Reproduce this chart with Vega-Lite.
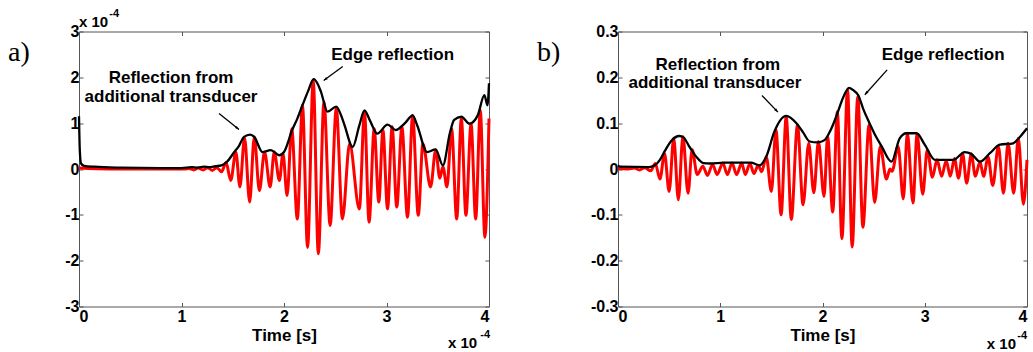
{
"$schema": "https://vega.github.io/schema/vega-lite/v6.json",
"autosize": {"type": "pad"},
"padding": {"left": 7, "top": 7.5, "right": 5, "bottom": 5},
"background": "white",
"config": {
  "view": {"stroke": "#555", "strokeWidth": 1},
  "axis": {"labelFont": "Liberation Sans", "labelFontSize": 16, "labelFontWeight": "bold", "labelColor": "#000",
           "titleFont": "Liberation Sans", "titleFontSize": 17, "titleFontWeight": "bold", "titleColor": "#000",
           "domain": false, "grid": false, "tickColor": "#555", "tickSize": -4, "tickWidth": 1}
},
"datasets": {
  "redA": [
    {"t":0.00,"v":0.02},{"t":0.30,"v":0.00},{"t":0.70,"v":0.00},{"t":1.03,"v":0.00},{"t":1.075,"v":0.01},{"t":1.12,"v":-0.02},
    {"t":1.165,"v":0.02},{"t":1.21,"v":-0.02},{"t":1.255,"v":0.03},{"t":1.30,"v":-0.03},{"t":1.345,"v":0.03},{"t":1.39,"v":-0.06},
    {"t":1.435,"v":0.14},{"t":1.48,"v":-0.25},{"t":1.53,"v":0.37},{"t":1.57,"v":-0.39},{"t":1.615,"v":0.68},{"t":1.665,"v":-0.72},
    {"t":1.71,"v":0.70},{"t":1.76,"v":-0.47},{"t":1.81,"v":0.37},{"t":1.865,"v":-0.39},{"t":1.905,"v":0.37},{"t":1.955,"v":-0.25},
    {"t":1.99,"v":0.34},{"t":2.03,"v":-0.58},{"t":2.075,"v":0.88},{"t":2.13,"v":-1.09},{"t":2.18,"v":1.39},{"t":2.23,"v":-1.71},
    {"t":2.285,"v":1.94},{"t":2.335,"v":-1.85},{"t":2.39,"v":1.47},{"t":2.45,"v":-1.23},{"t":2.51,"v":1.32},{"t":2.57,"v":-1.09},
    {"t":2.64,"v":0.55},{"t":2.735,"v":-0.87},{"t":2.785,"v":1.25},{"t":2.83,"v":-1.16},{"t":2.88,"v":0.88},{"t":2.925,"v":-0.72},
    {"t":2.965,"v":0.85},{"t":3.01,"v":-0.87},{"t":3.055,"v":0.92},{"t":3.10,"v":-0.83},{"t":3.15,"v":0.92},{"t":3.205,"v":-1.05},
    {"t":3.255,"v":1.17},{"t":3.31,"v":-1.01},{"t":3.355,"v":0.55},{"t":3.43,"v":-0.39},{"t":3.48,"v":0.41},{"t":3.52,"v":-0.20},
    {"t":3.55,"v":0.05},{"t":3.59,"v":-0.39},{"t":3.635,"v":0.88},{"t":3.685,"v":-1.09},{"t":3.73,"v":1.10},{"t":3.775,"v":-1.01},
    {"t":3.825,"v":0.99},{"t":3.87,"v":-1.09},{"t":3.915,"v":1.28},{"t":3.96,"v":-1.49},{"t":4.0,"v":1.10}
  ],
  "envA": [
    {"t":0.000,"v":1.15},{"t":0.008,"v":0.40},{"t":0.02,"v":0.12},{"t":0.05,"v":0.07},{"t":0.15,"v":0.05},{"t":0.4,"v":0.03},
    {"t":0.8,"v":0.02},{"t":1.0,"v":0.02},{"t":1.1,"v":0.04},{"t":1.16,"v":0.03},{"t":1.22,"v":0.05},{"t":1.27,"v":0.04},
    {"t":1.33,"v":0.06},{"t":1.39,"v":0.08},{"t":1.44,"v":0.15},{"t":1.515,"v":0.37},{"t":1.56,"v":0.50},{"t":1.61,"v":0.70},
    {"t":1.67,"v":0.75},{"t":1.71,"v":0.70},{"t":1.79,"v":0.37},{"t":1.87,"v":0.41},{"t":1.955,"v":0.30},{"t":2.0,"v":0.37},
    {"t":2.08,"v":0.85},{"t":2.13,"v":1.10},{"t":2.18,"v":1.39},{"t":2.235,"v":1.70},{"t":2.29,"v":1.96},{"t":2.33,"v":1.85},
    {"t":2.36,"v":1.69},{"t":2.425,"v":1.25},{"t":2.51,"v":1.36},{"t":2.56,"v":1.15},{"t":2.59,"v":0.96},{"t":2.67,"v":0.48},
    {"t":2.735,"v":0.95},{"t":2.785,"v":1.28},{"t":2.84,"v":1.05},{"t":2.91,"v":0.77},{"t":3.01,"v":0.97},{"t":3.09,"v":0.85},
    {"t":3.18,"v":1.0},{"t":3.255,"v":1.17},{"t":3.30,"v":0.95},{"t":3.395,"v":0.37},{"t":3.48,"v":0.43},{"t":3.55,"v":0.08},
    {"t":3.62,"v":0.8},{"t":3.66,"v":1.07},{"t":3.73,"v":1.14},{"t":3.81,"v":0.99},{"t":3.89,"v":1.17},{"t":3.955,"v":1.61},
    {"t":3.985,"v":1.39},{"t":4.0,"v":1.87}
  ],
  "redB": [
    {"t":0.00,"v":0.001},{"t":0.10,"v":0.000},{"t":0.16,"v":0.002},{"t":0.21,"v":-0.002},{"t":0.26,"v":0.003},{"t":0.32,"v":-0.004},
    {"t":0.365,"v":0.012},{"t":0.41,"v":-0.022},{"t":0.455,"v":0.034},{"t":0.50,"v":-0.049},{"t":0.545,"v":0.067},{"t":0.59,"v":-0.067},
    {"t":0.635,"v":0.071},{"t":0.685,"v":-0.053},{"t":0.725,"v":0.042},{"t":0.775,"v":-0.012},{"t":0.83,"v":0.006},{"t":0.875,"v":-0.014},
    {"t":0.925,"v":0.010},{"t":0.97,"v":-0.012},{"t":1.025,"v":0.013},{"t":1.07,"v":-0.012},{"t":1.115,"v":0.013},{"t":1.16,"v":-0.012},
    {"t":1.21,"v":0.013},{"t":1.245,"v":-0.012},{"t":1.29,"v":0.012},{"t":1.33,"v":-0.010},{"t":1.37,"v":0.008},{"t":1.405,"v":-0.006},
    {"t":1.45,"v":0.027},{"t":1.50,"v":-0.049},{"t":1.545,"v":0.085},{"t":1.595,"v":-0.100},{"t":1.645,"v":0.114},{"t":1.695,"v":-0.110},
    {"t":1.755,"v":0.096},{"t":1.81,"v":-0.078},{"t":1.865,"v":0.056},{"t":1.915,"v":-0.052},{"t":1.96,"v":0.060},{"t":2.015,"v":-0.060},
    {"t":2.05,"v":0.070},{"t":2.10,"v":-0.094},{"t":2.145,"v":0.125},{"t":2.19,"v":-0.152},{"t":2.245,"v":0.174},{"t":2.29,"v":-0.170},
    {"t":2.345,"v":0.158},{"t":2.395,"v":-0.127},{"t":2.455,"v":0.096},{"t":2.51,"v":-0.073},{"t":2.565,"v":0.049},{"t":2.625,"v":-0.022},
    {"t":2.66,"v":0.000},{"t":2.68,"v":-0.005},{"t":2.74,"v":0.049},{"t":2.79,"v":-0.065},{"t":2.83,"v":0.078},{"t":2.885,"v":-0.074},
    {"t":2.925,"v":0.076},{"t":2.98,"v":-0.055},{"t":3.025,"v":0.042},{"t":3.075,"v":-0.018},{"t":3.12,"v":0.020},{"t":3.165,"v":-0.016},
    {"t":3.21,"v":0.018},{"t":3.25,"v":-0.016},{"t":3.29,"v":0.023},{"t":3.33,"v":-0.020},{"t":3.37,"v":0.034},{"t":3.41,"v":-0.031},
    {"t":3.455,"v":0.033},{"t":3.495,"v":-0.016},{"t":3.54,"v":0.016},{"t":3.575,"v":-0.016},{"t":3.62,"v":0.026},{"t":3.665,"v":-0.036},
    {"t":3.72,"v":0.049},{"t":3.77,"v":-0.053},{"t":3.815,"v":0.056},{"t":3.87,"v":-0.053},{"t":3.915,"v":0.067},{"t":3.965,"v":-0.077},
    {"t":4.0,"v":0.02}
  ],
  "envB": [
    {"t":0.0,"v":0.008},{"t":0.02,"v":0.005},{"t":0.3,"v":0.004},{"t":0.36,"v":0.008},{"t":0.41,"v":0.02},{"t":0.46,"v":0.04},
    {"t":0.52,"v":0.061},{"t":0.60,"v":0.072},{"t":0.64,"v":0.069},{"t":0.70,"v":0.048},{"t":0.765,"v":0.027},{"t":0.835,"v":0.013},
    {"t":0.9,"v":0.012},{"t":1.04,"v":0.014},{"t":1.30,"v":0.014},{"t":1.385,"v":0.008},{"t":1.45,"v":0.027},{"t":1.53,"v":0.082},
    {"t":1.645,"v":0.116},{"t":1.745,"v":0.10},{"t":1.81,"v":0.08},{"t":1.875,"v":0.06},{"t":1.955,"v":0.058},{"t":2.02,"v":0.063},
    {"t":2.08,"v":0.085},{"t":2.14,"v":0.118},{"t":2.20,"v":0.155},{"t":2.26,"v":0.177},{"t":2.30,"v":0.172},{"t":2.35,"v":0.161},
    {"t":2.40,"v":0.13},{"t":2.46,"v":0.10},{"t":2.52,"v":0.072},{"t":2.58,"v":0.049},{"t":2.675,"v":0.016},{"t":2.755,"v":0.067},
    {"t":2.82,"v":0.078},{"t":2.92,"v":0.078},{"t":3.00,"v":0.053},{"t":3.10,"v":0.02},{"t":3.18,"v":0.02},{"t":3.28,"v":0.02},
    {"t":3.39,"v":0.037},{"t":3.455,"v":0.033},{"t":3.54,"v":0.016},{"t":3.64,"v":0.035},{"t":3.735,"v":0.053},{"t":3.865,"v":0.056},
    {"t":3.93,"v":0.07},{"t":4.0,"v":0.089}
  ],
  "texts": [
    {"panel":"a","kind":"note","t":0.898,"v":1.98,"label":"Reflection from"},
    {"panel":"a","kind":"note","t":0.898,"v":1.58,"label":"additional transducer"},
    {"panel":"a","kind":"note","t":3.06,"v":2.49,"label":"Edge reflection"},
    {"panel":"a","kind":"tag","t":-0.693,"v":2.346,"label":"a)"},
    {"panel":"a","kind":"mult","t":0.0,"v":3.218,"label":"x 10"},
    {"panel":"a","kind":"sup","t":0.295,"v":3.371,"label":"-4"},
    {"panel":"a","kind":"mult","t":3.60,"v":-3.807,"label":"x 10"},
    {"panel":"a","kind":"sup","t":3.915,"v":-3.622,"label":"-4"},
    {"panel":"b","kind":"note","t":0.977,"v":0.2274,"label":"Reflection from"},
    {"panel":"b","kind":"note","t":0.948,"v":0.1872,"label":"additional transducer"},
    {"panel":"b","kind":"note","t":3.18,"v":0.2492,"label":"Edge reflection"},
    {"panel":"b","kind":"tag","t":-0.792,"v":0.2346,"label":"b)"},
    {"panel":"b","kind":"mult","t":3.607,"v":-0.3808,"label":"x 10"},
    {"panel":"b","kind":"sup","t":3.905,"v":-0.3633,"label":"-4"}
  ],
  "arrows": [
    {"panel":"a","id":"a1","t":1.366,"v":1.211,"t2":1.561,"v2":0.862},
    {"panel":"a","id":"a2","t":2.573,"v":2.237,"t2":2.387,"v2":1.931},
    {"panel":"b","id":"b1","t":1.408,"v":0.1604,"t2":1.564,"v2":0.1241},
    {"panel":"b","id":"b2","t":2.632,"v":0.2164,"t2":2.414,"v2":0.1620}
  ]
},
"hconcat": [
  {
    "width": 410, "height": 275,
    "layer": [
      {"data": {"name": "redA"},
       "mark": {"type": "line", "color": "#ff0000", "strokeWidth": 3, "interpolate": "monotone"},
       "encoding": {
         "x": {"field": "t", "type": "quantitative", "scale": {"domain": [0, 4], "nice": false, "zero": false},
               "axis": {"orient": "bottom", "values": [0,1,2,3,4], "title": "Time [s]", "labelPadding": 6, "titlePadding": 3,
                        "labelExpr": "format(datum.value, 'd')"}},
         "y": {"field": "v", "type": "quantitative", "scale": {"domain": [-3, 3], "nice": false, "zero": false},
               "axis": {"orient": "left", "values": [-3,-2,-1,0,1,2,3], "title": null, "labelPadding": 4,
                        "labelExpr": "datum.value < 0 ? '-' + format(-datum.value, 'd') : format(datum.value, 'd')"}}
       }},
      {"data": {"name": "envA"},
       "mark": {"type": "line", "color": "#000000", "strokeWidth": 2.3, "interpolate": "monotone"},
       "encoding": {
         "x": {"field": "t", "type": "quantitative", "scale": {"domain": [0, 4], "nice": false, "zero": false},
               "axis": {"orient": "top", "values": [0,1,2,3,4], "title": null, "labels": false}},
         "y": {"field": "v", "type": "quantitative", "scale": {"domain": [-3, 3], "nice": false, "zero": false},
               "axis": {"orient": "right", "values": [-3,-2,-1,0,1,2,3], "title": null, "labels": false}}
       }},
      {"data": {"name": "arrows"}, "transform": [{"filter": "datum.panel == 'a'"}],
       "mark": {"type": "rule", "color": "#000", "strokeWidth": 1.3},
       "encoding": {
         "x": {"field": "t", "type": "quantitative", "scale": {"domain": [0, 4], "nice": false, "zero": false}, "axis": null},
         "y": {"field": "v", "type": "quantitative", "scale": {"domain": [-3, 3], "nice": false, "zero": false}, "axis": null},
         "x2": {"field": "t2"}, "y2": {"field": "v2"}
       }},
      {"data": {"name": "arrows"}, "transform": [{"filter": "datum.id == 'a1'"}],
       "mark": {"type": "point", "shape": "M0,0L-0.7,2L0.7,2Z", "filled": true, "color": "#000", "size": 16, "angle": 128.7, "opacity": 1},
       "encoding": {
         "x": {"field": "t2", "type": "quantitative", "scale": {"domain": [0, 4], "nice": false, "zero": false}, "axis": null},
         "y": {"field": "v2", "type": "quantitative", "scale": {"domain": [-3, 3], "nice": false, "zero": false}, "axis": null}
       }},
      {"data": {"name": "arrows"}, "transform": [{"filter": "datum.id == 'a2'"}],
       "mark": {"type": "point", "shape": "M0,0L-0.7,2L0.7,2Z", "filled": true, "color": "#000", "size": 16, "angle": 233.6, "opacity": 1},
       "encoding": {
         "x": {"field": "t2", "type": "quantitative", "scale": {"domain": [0, 4], "nice": false, "zero": false}, "axis": null},
         "y": {"field": "v2", "type": "quantitative", "scale": {"domain": [-3, 3], "nice": false, "zero": false}, "axis": null}
       }},
      {"data": {"name": "texts"}, "transform": [{"filter": "datum.panel == 'a' && datum.kind == 'note'"}],
       "mark": {"type": "text", "align": "center", "baseline": "middle", "font": "Liberation Sans", "fontSize": 17, "fontWeight": "bold", "color": "#000"},
       "encoding": {
         "x": {"field": "t", "type": "quantitative", "scale": {"domain": [0, 4], "nice": false, "zero": false}, "axis": null},
         "y": {"field": "v", "type": "quantitative", "scale": {"domain": [-3, 3], "nice": false, "zero": false}, "axis": null},
         "text": {"field": "label"}
       }},
      {"data": {"name": "texts"}, "transform": [{"filter": "datum.panel == 'a' && datum.kind == 'mult'"}],
       "mark": {"type": "text", "align": "left", "baseline": "middle", "font": "Liberation Sans", "fontSize": 15, "fontWeight": "bold", "color": "#000"},
       "encoding": {
         "x": {"field": "t", "type": "quantitative", "scale": {"domain": [0, 4], "nice": false, "zero": false}, "axis": null},
         "y": {"field": "v", "type": "quantitative", "scale": {"domain": [-3, 3], "nice": false, "zero": false}, "axis": null},
         "text": {"field": "label"}
       }},
      {"data": {"name": "texts"}, "transform": [{"filter": "datum.panel == 'a' && datum.kind == 'sup'"}],
       "mark": {"type": "text", "align": "left", "baseline": "middle", "font": "Liberation Sans", "fontSize": 11, "fontWeight": "bold", "color": "#000"},
       "encoding": {
         "x": {"field": "t", "type": "quantitative", "scale": {"domain": [0, 4], "nice": false, "zero": false}, "axis": null},
         "y": {"field": "v", "type": "quantitative", "scale": {"domain": [-3, 3], "nice": false, "zero": false}, "axis": null},
         "text": {"field": "label"}
       }},
      {"data": {"name": "texts"}, "transform": [{"filter": "datum.panel == 'a' && datum.kind == 'tag'"}],
       "mark": {"type": "text", "align": "left", "baseline": "alphabetic", "font": "Liberation Serif", "fontSize": 28, "color": "#000"},
       "encoding": {
         "x": {"field": "t", "type": "quantitative", "scale": {"domain": [0, 4], "nice": false, "zero": false}, "axis": null},
         "y": {"field": "v", "type": "quantitative", "scale": {"domain": [-3, 3], "nice": false, "zero": false}, "axis": null},
         "text": {"field": "label"}
       }}
    ]
  },
  {
    "width": 409, "height": 275,
    "layer": [
      {"data": {"name": "redB"},
       "mark": {"type": "line", "color": "#ff0000", "strokeWidth": 3, "interpolate": "monotone"},
       "encoding": {
         "x": {"field": "t", "type": "quantitative", "scale": {"domain": [0, 4], "nice": false, "zero": false},
               "axis": {"orient": "bottom", "values": [0,1,2,3,4], "title": "Time [s]", "labelPadding": 6, "titlePadding": 3,
                        "labelExpr": "format(datum.value, 'd')"}},
         "y": {"field": "v", "type": "quantitative", "scale": {"domain": [-0.3, 0.3], "nice": false, "zero": false},
               "axis": {"orient": "left", "values": [-0.3,-0.2,-0.1,0,0.1,0.2,0.3], "title": null, "labelPadding": 4,
                        "labelExpr": "datum.value == 0 ? '0' : (datum.value < 0 ? '-' + format(-datum.value, '.1f') : format(datum.value, '.1f'))"}}
       }},
      {"data": {"name": "envB"},
       "mark": {"type": "line", "color": "#000000", "strokeWidth": 2.3, "interpolate": "monotone"},
       "encoding": {
         "x": {"field": "t", "type": "quantitative", "scale": {"domain": [0, 4], "nice": false, "zero": false},
               "axis": {"orient": "top", "values": [0,1,2,3,4], "title": null, "labels": false}},
         "y": {"field": "v", "type": "quantitative", "scale": {"domain": [-0.3, 0.3], "nice": false, "zero": false},
               "axis": {"orient": "right", "values": [-0.3,-0.2,-0.1,0,0.1,0.2,0.3], "title": null, "labels": false}}
       }},
      {"data": {"name": "arrows"}, "transform": [{"filter": "datum.panel == 'b'"}],
       "mark": {"type": "rule", "color": "#000", "strokeWidth": 1.3},
       "encoding": {
         "x": {"field": "t", "type": "quantitative", "scale": {"domain": [0, 4], "nice": false, "zero": false}, "axis": null},
         "y": {"field": "v", "type": "quantitative", "scale": {"domain": [-0.3, 0.3], "nice": false, "zero": false}, "axis": null},
         "x2": {"field": "t2"}, "y2": {"field": "v2"}
       }},
      {"data": {"name": "arrows"}, "transform": [{"filter": "datum.id == 'b1'"}],
       "mark": {"type": "point", "shape": "M0,0L-0.7,2L0.7,2Z", "filled": true, "color": "#000", "size": 16, "angle": 136.2, "opacity": 1},
       "encoding": {
         "x": {"field": "t2", "type": "quantitative", "scale": {"domain": [0, 4], "nice": false, "zero": false}, "axis": null},
         "y": {"field": "v2", "type": "quantitative", "scale": {"domain": [-0.3, 0.3], "nice": false, "zero": false}, "axis": null}
       }},
      {"data": {"name": "arrows"}, "transform": [{"filter": "datum.id == 'b2'"}],
       "mark": {"type": "point", "shape": "M0,0L-0.7,2L0.7,2Z", "filled": true, "color": "#000", "size": 16, "angle": 221.7, "opacity": 1},
       "encoding": {
         "x": {"field": "t2", "type": "quantitative", "scale": {"domain": [0, 4], "nice": false, "zero": false}, "axis": null},
         "y": {"field": "v2", "type": "quantitative", "scale": {"domain": [-0.3, 0.3], "nice": false, "zero": false}, "axis": null}
       }},
      {"data": {"name": "texts"}, "transform": [{"filter": "datum.panel == 'b' && datum.kind == 'note'"}],
       "mark": {"type": "text", "align": "center", "baseline": "middle", "font": "Liberation Sans", "fontSize": 17, "fontWeight": "bold", "color": "#000"},
       "encoding": {
         "x": {"field": "t", "type": "quantitative", "scale": {"domain": [0, 4], "nice": false, "zero": false}, "axis": null},
         "y": {"field": "v", "type": "quantitative", "scale": {"domain": [-0.3, 0.3], "nice": false, "zero": false}, "axis": null},
         "text": {"field": "label"}
       }},
      {"data": {"name": "texts"}, "transform": [{"filter": "datum.panel == 'b' && datum.kind == 'mult'"}],
       "mark": {"type": "text", "align": "left", "baseline": "middle", "font": "Liberation Sans", "fontSize": 15, "fontWeight": "bold", "color": "#000"},
       "encoding": {
         "x": {"field": "t", "type": "quantitative", "scale": {"domain": [0, 4], "nice": false, "zero": false}, "axis": null},
         "y": {"field": "v", "type": "quantitative", "scale": {"domain": [-0.3, 0.3], "nice": false, "zero": false}, "axis": null},
         "text": {"field": "label"}
       }},
      {"data": {"name": "texts"}, "transform": [{"filter": "datum.panel == 'b' && datum.kind == 'sup'"}],
       "mark": {"type": "text", "align": "left", "baseline": "middle", "font": "Liberation Sans", "fontSize": 11, "fontWeight": "bold", "color": "#000"},
       "encoding": {
         "x": {"field": "t", "type": "quantitative", "scale": {"domain": [0, 4], "nice": false, "zero": false}, "axis": null},
         "y": {"field": "v", "type": "quantitative", "scale": {"domain": [-0.3, 0.3], "nice": false, "zero": false}, "axis": null},
         "text": {"field": "label"}
       }},
      {"data": {"name": "texts"}, "transform": [{"filter": "datum.panel == 'b' && datum.kind == 'tag'"}],
       "mark": {"type": "text", "align": "left", "baseline": "alphabetic", "font": "Liberation Serif", "fontSize": 28, "color": "#000"},
       "encoding": {
         "x": {"field": "t", "type": "quantitative", "scale": {"domain": [0, 4], "nice": false, "zero": false}, "axis": null},
         "y": {"field": "v", "type": "quantitative", "scale": {"domain": [-0.3, 0.3], "nice": false, "zero": false}, "axis": null},
         "text": {"field": "label"}
       }}
    ]
  }
],
"spacing": 129,
"bounds": "flush"
}
